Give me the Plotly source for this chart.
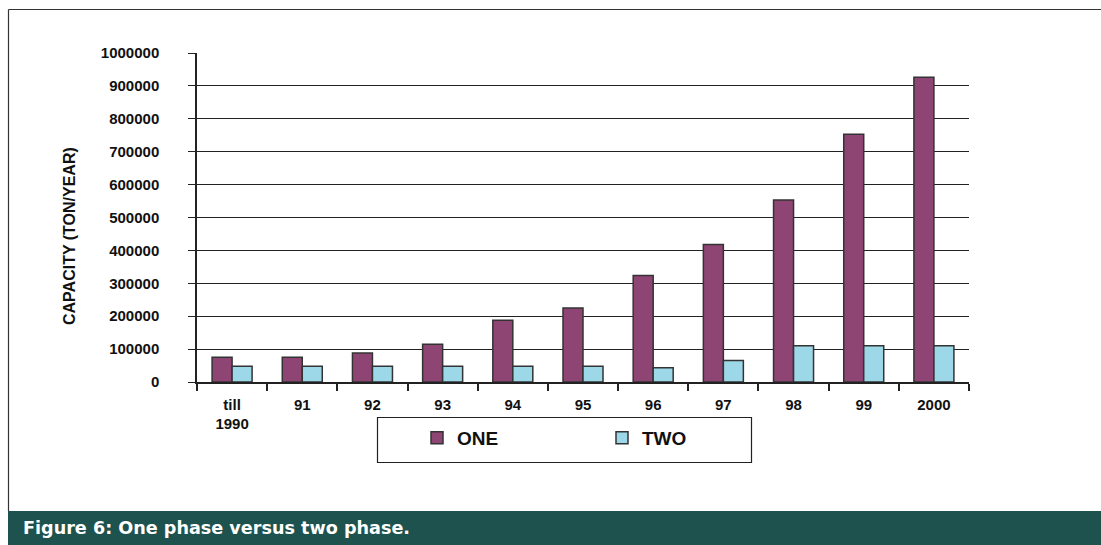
import plotly.graph_objects as go

categories = ["till<br>1990", "91", "92", "93", "94", "95", "96", "97", "98", "99", "2000"]
one_phase = [75000, 75000, 88000, 115000, 188000, 225000, 324000, 418000, 553000, 753000, 926000]
two_phase = [48000, 48000, 48000, 48000, 48000, 48000, 43000, 65000, 110000, 110000, 110000]
y_ticks = [0, 100000, 200000, 300000, 400000, 500000, 600000, 700000, 800000, 900000, 1000000]

W, H = 1101, 545
L, R, T, B = 197, 969, 53, 382

def px(x):
    return (x - L) / (R - L)

def py(y):
    return (B - y) / (B - T)

font_main = "Liberation Sans, Arial, sans-serif"

fig = go.Figure()
fig.add_trace(go.Bar(x=categories, y=one_phase, name="<b>ONE</b>",
                     marker=dict(color="#8e4574", line=dict(color="#333333", width=1.5))))
fig.add_trace(go.Bar(x=categories, y=two_phase, name="<b>TWO</b>",
                     marker=dict(color="#9dd8e8", line=dict(color="#333333", width=1.5))))

shapes = [
    dict(type="line", xref="paper", yref="paper", x0=px(8.5), x1=px(8.5), y0=py(9.5), y1=py(511),
         line=dict(color="#333333", width=1.2), layer="below"),
    dict(type="line", xref="paper", yref="paper", x0=px(8.5), x1=px(1101), y0=py(9.5), y1=py(9.5),
         line=dict(color="#333333", width=1.2), layer="below"),
    dict(type="rect", xref="paper", yref="paper", x0=px(8), x1=px(1101), y0=py(511), y1=py(545),
         fillcolor="#1e524e", line=dict(width=0), layer="below"),
    dict(type="rect", xref="paper", yref="paper", x0=px(377.5), x1=px(751.5), y0=py(417.5), y1=py(462.5),
         fillcolor="rgba(0,0,0,0)", line=dict(color="#222222", width=1.2), layer="above"),
]

annotations = [
    dict(text="<b>Figure 6: One phase versus two phase.</b>", xref="paper", yref="paper",
         x=px(21), y=py(528), xanchor="left", yanchor="middle", showarrow=False,
         font=dict(family="DejaVu Sans, sans-serif", size=17.6, color="white")),
    dict(text="<b>CAPACITY (TON/YEAR)</b>", xref="paper", yref="paper",
         x=px(69.5), y=py(236.5), xanchor="center", yanchor="middle", showarrow=False,
         textangle=-90, font=dict(family=font_main, size=16, color="#111111")),
]

fig.update_layout(
    width=W, height=H,
    margin=dict(l=L, r=W - R, t=T, b=H - B, pad=0, autoexpand=False),
    paper_bgcolor="white", plot_bgcolor="white",
    barmode="group", bargap=0.43, bargroupgap=0,
    font=dict(family=font_main, size=15, color="#111111"),
    showlegend=True,
    legend=dict(orientation="h", xref="container", yref="container",
                x=417 / W, y=1 - 419 / H, xanchor="left", yanchor="top",
                bgcolor="rgba(0,0,0,0)", borderwidth=0,
                entrywidth=140, entrywidthmode="pixels",
                font=dict(family=font_main, size=19, color="#111111"),
                traceorder="normal"),
    shapes=shapes, annotations=annotations,
)

fig.update_xaxes(
    type="category", showline=True, linecolor="#222222", linewidth=1.5,
    ticks="outside", ticklen=7, tickcolor="#222222", tickwidth=1.5, tickson="boundaries",
    tickfont=dict(family=font_main, size=15, color="#111111"),
    showgrid=False, automargin=False, ticklabelstandoff=8,
    tickvals=categories, ticktext=["<b>" + c + "</b>" for c in categories],
)

fig.update_yaxes(
    range=[0, 1000000], tickvals=y_ticks, ticktext=["<b>%d</b>" % v for v in y_ticks],
    showline=True, linecolor="#222222", linewidth=1.5,
    ticks="outside", ticklen=7, tickcolor="#222222", tickwidth=1.2,
    showgrid=True, gridcolor="#222222", gridwidth=1.2, zeroline=False,
    ticklabelstandoff=26, automargin=False,
    tickfont=dict(family=font_main, size=15, color="#111111"),
)

fig.write_html("out.html")
